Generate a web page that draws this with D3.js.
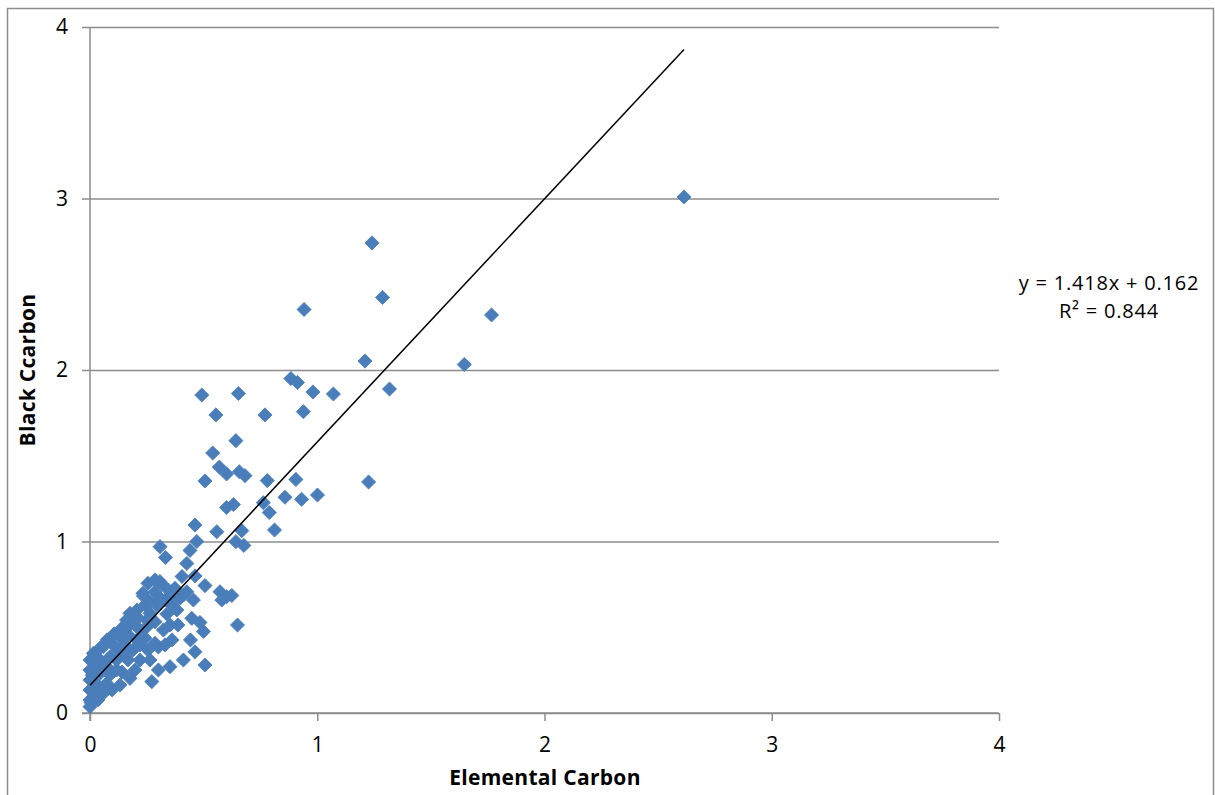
<!DOCTYPE html>
<html lang="en">
<head>
    <meta charset="UTF-8" />
    <title>Black Carbon vs Elemental Carbon</title>
    <script src="https://d3js.org/d3.v7.min.js"></script>
    <style>
        body { margin: 0; background: #fff; }
        text { font-family: "Open Sans", "Noto Sans", sans-serif; fill: #000; }
    </style>
</head>
<body>
    <script>
        // values
        const elementalCarbon = [
            2.614, 1.241, 1.287, 0.942, 1.767, 1.210, 1.647, 0.884, 0.913, 0.981,
            1.071, 1.318, 0.492, 0.653, 0.939, 0.554, 0.770, 0.642, 0.540, 0.569,
            0.601, 0.657, 0.682, 0.506, 0.780, 0.906, 1.226, 0.858, 0.931, 1.001,
            0.601, 0.631, 0.763, 0.789, 0.462, 0.558, 0.668, 0.812, 0.470, 0.642,
            0.677, 0.440, 0.308, 0.332, 0.426, 0.405, 0.462, 0.506, 0.255, 0.286,
            0.316, 0.345, 0.411, 0.374, 0.426, 0.235, 0.264, 0.352, 0.455, 0.572,
            0.601, 0.624, 0.580, 0.207, 0.264, 0.338, 0.294, 0.382, 0.448, 0.484,
            0.499, 0.649, 0.191, 0.161, 0.250, 0.286, 0.323, 0.250, 0.220, 0.176,
            0.132, 0.169, 0.206, 0.242, 0.286, 0.301, 0.442, 0.462, 0.411, 0.352,
            0.301, 0.506, 0.272, 0.176, 0.103, 0.059, 0.015, 0.000, 0.044, 0.088,
            0.117, 0.147, 0.073, 0.117, 0.044, 0.000, 0.029, 0.073, 0.059, 0.015,
            0.000, 0.000, 0.000, 0.154, 0.189, 0.123, 0.220, 0.255, 0.167, 0.220,
            0.264, 0.198, 0.141, 0.088, 0.097, 0.132, 0.035, 0.022, 0.044, 0.075,
            0.106, 0.141, 0.176, 0.211, 0.242, 0.308, 0.330, 0.374, 0.396, 0.286,
            0.233, 0.308, 0.352, 0.387, 0.361, 0.330, 0.000, 0.010, 0.005, 0.020
        ];
        const blackCarbon = [
            3.009, 2.741, 2.423, 2.353, 2.321, 2.052, 2.032, 1.950, 1.927, 1.872,
            1.860, 1.889, 1.854, 1.863, 1.757, 1.738, 1.738, 1.588, 1.516, 1.434,
            1.394, 1.407, 1.384, 1.353, 1.355, 1.362, 1.347, 1.258, 1.246, 1.271,
            1.198, 1.216, 1.226, 1.169, 1.096, 1.057, 1.063, 1.067, 1.000, 0.999,
            0.977, 0.948, 0.970, 0.907, 0.872, 0.796, 0.799, 0.743, 0.756, 0.776,
            0.752, 0.717, 0.688, 0.727, 0.707, 0.682, 0.649, 0.640, 0.659, 0.707,
            0.678, 0.685, 0.659, 0.601, 0.581, 0.577, 0.630, 0.601, 0.552, 0.528,
            0.475, 0.513, 0.528, 0.542, 0.542, 0.532, 0.484, 0.503, 0.484, 0.581,
            0.445, 0.455, 0.426, 0.436, 0.406, 0.385, 0.426, 0.357, 0.309, 0.270,
            0.251, 0.280, 0.183, 0.202, 0.397, 0.387, 0.348, 0.309, 0.309, 0.328,
            0.309, 0.348, 0.270, 0.251, 0.231, 0.192, 0.153, 0.173, 0.115, 0.095,
            0.037, 0.076, 0.134, 0.397, 0.367, 0.367, 0.397, 0.367, 0.309, 0.309,
            0.309, 0.251, 0.239, 0.222, 0.134, 0.163, 0.076, 0.280, 0.379, 0.426,
            0.461, 0.496, 0.513, 0.554, 0.630, 0.671, 0.659, 0.671, 0.669, 0.706,
            0.698, 0.766, 0.513, 0.513, 0.426, 0.397, 0.250, 0.220, 0.060, 0.180
        ];
        const tickValues = [0, 1, 2, 3, 4];
        const slope = 1.418;
        const intercept = 0.162;
        const equationLines = ['y = 1.418x + 0.162', 'R² = 0.844'];

        const points = elementalCarbon.map((x, i) => ({ x: x, y: blackCarbon[i] }));

        const width = 1215;
        const height = 795;
        const plot = { left: 90, right: 999, top: 27, bottom: 713 };
        const fontSize = '21px';

        const svg = d3.select('body').append('svg').attr('width', width).attr('height', height);

        // outer chart border
        svg.append('rect')
            .attr('x', 7.5).attr('y', 8.5)
            .attr('width', 1206).attr('height', 800)
            .attr('fill', 'none')
            .attr('stroke', '#8c8c8c')
            .attr('stroke-width', 1.5);

        const x = d3.scaleLinear().domain([0, 4]).range([plot.left, plot.right]);
        const y = d3.scaleLinear().domain([0, 4]).range([plot.bottom, plot.top]);

        const gridColor = '#8c8c8c';

        // y axis with gridlines
        const yAxis = svg.append('g')
            .attr('transform', `translate(${plot.left},0)`)
            .call(d3.axisLeft(y).tickValues(tickValues).tickFormat(d3.format('d'))
                .tickSize(-(plot.right - plot.left)).tickSizeOuter(0).tickPadding(22));
        yAxis.select('.domain').remove();
        yAxis.selectAll('.tick line')
            .attr('x1', -8)
            .attr('stroke', gridColor)
            .attr('stroke-width', 1.5);
        yAxis.selectAll('.tick text')
            .style('font-size', fontSize)
            .attr('font-family', null);

        // x axis
        const xAxis = svg.append('g')
            .attr('transform', `translate(0,${plot.bottom})`)
            .call(d3.axisBottom(x).tickValues(tickValues).tickFormat(d3.format('d'))
                .tickSize(8).tickSizeOuter(0).tickPadding(16));
        xAxis.select('.domain').remove();
        xAxis.selectAll('.tick line')
            .attr('stroke', gridColor)
            .attr('stroke-width', 1.5);
        xAxis.selectAll('.tick text')
            .style('font-size', fontSize)
            .attr('font-family', null);

        // axis lines
        svg.append('line')
            .attr('x1', x(0)).attr('x2', x(0))
            .attr('y1', y(4)).attr('y2', y(0) + 8)
            .attr('stroke', gridColor).attr('stroke-width', 1.5);
        svg.append('line')
            .attr('x1', x(0) - 8).attr('x2', x(4))
            .attr('y1', y(0)).attr('y2', y(0))
            .attr('stroke', gridColor).attr('stroke-width', 1.5);

        // points
        const diamond = d3.symbol().type(d3.symbolSquare).size(100);
        svg.append('g')
            .selectAll('path')
            .data(points)
            .enter()
            .append('path')
            .attr('d', diamond)
            .attr('transform', (d) => `translate(${x(d.x)},${y(d.y)}) rotate(45)`)
            .attr('fill', '#4a7ebb')
            .attr('stroke', '#4a7ebb')
            .attr('stroke-width', 0.8);

        // linear trendline
        const xMax = d3.max(elementalCarbon);
        svg.append('line')
            .attr('x1', x(0)).attr('y1', y(intercept))
            .attr('x2', x(xMax)).attr('y2', y(slope * xMax + intercept))
            .attr('stroke', '#000')
            .attr('stroke-width', 1.5);

        // trendline equation
        svg.append('g')
            .selectAll('text')
            .data(equationLines)
            .enter()
            .append('text')
            .attr('x', 1109)
            .attr('y', (d, i) => 290 + i * 28)
            .attr('text-anchor', 'middle')
            .style('font-size', '20px')
            .style('letter-spacing', '0.8px')
            .text((d) => d);

        // axis titles
        svg.append('text')
            .attr('x', 545)
            .attr('y', 785)
            .attr('text-anchor', 'middle')
            .style('font-size', fontSize)
            .style('font-weight', 'bold')
            .style('letter-spacing', '0.3px')
            .text('Elemental Carbon');

        svg.append('text')
            .attr('transform', 'translate(35,370) rotate(-90)')
            .attr('text-anchor', 'middle')
            .style('font-size', fontSize)
            .style('font-weight', 'bold')
            .style('letter-spacing', '0.3px')
            .text('Black Ccarbon');
    </script>
</body>
</html>
